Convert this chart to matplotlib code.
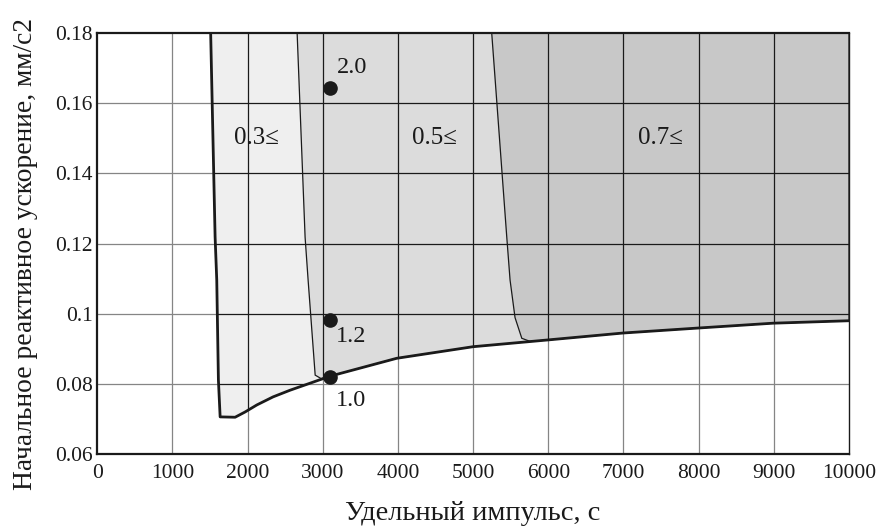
import matplotlib
matplotlib.use('Agg')
from matplotlib import pyplot
import numpy

pyplot.rcParams['font.family'] = ['Liberation Serif', 'DejaVu Serif']

# left edge of the feasible region (top -> bottom)
left_x = [1510, 1569, 1591, 1613, 1636]
left_y = [0.180, 0.1219, 0.1096, 0.0811, 0.0706]

# lower edge of the feasible region (left -> right)
low_x = [1636, 1835, 1968, 2124, 2340, 2566, 3098, 3985, 5000, 5980, 6995, 7979, 8989, 10000]
low_y = [0.0706, 0.0705, 0.0720, 0.0740, 0.0763, 0.0782, 0.0822, 0.0873, 0.0906, 0.0925,
         0.0945, 0.0959, 0.0973, 0.0980]

# 0.3 / 0.5 boundary (top -> bottom)
b05_x = [2660, 2766, 2806, 2900, 2980]
b05_y = [0.180, 0.1218, 0.1096, 0.0825, 0.0815]

# 0.5 / 0.7 boundary (top -> bottom)
b07_x = [5248, 5448, 5492, 5558, 5648, 5760]
b07_y = [0.180, 0.1219, 0.1096, 0.0989, 0.0930, 0.0921]

zone_labels = ['0.3≤', '0.5≤', '0.7≤']
zone_x = [2114, 4481, 7487]
zone_y = [0.150, 0.150, 0.150]

pts_x = [3100, 3100, 3100]
pts_y = [0.1643, 0.0982, 0.0819]
pts_labels = ['2.0', '1.2', '1.0']
pts_offsets = [(16, 15), (15, -12), (15, -17)]


def region(bx, by):
    xs = list(bx) + [x for x in low_x if x > bx[-1]] + [10000]
    ys = list(by) + [y for x, y in zip(low_x, low_y) if x > bx[-1]] + [0.18]
    return numpy.column_stack([xs, ys])


fig, ax = pyplot.subplots(figsize=(8.83, 5.28), dpi=100)
fig.subplots_adjust(left=0.110, right=0.9615, top=0.9375, bottom=0.140)

outer = region(left_x + low_x[1:], left_y + low_y[1:])
p_outer = pyplot.Polygon(outer, closed=True, facecolor='#efefef', edgecolor='none', zorder=1)
ax.add_patch(p_outer)
ax.add_patch(pyplot.Polygon(region(b05_x, b05_y), closed=True, facecolor='#dcdcdc',
                            edgecolor='#1a1a1a', linewidth=0.9, zorder=1.5))
ax.add_patch(pyplot.Polygon(region(b07_x, b07_y), closed=True, facecolor='#c8c8c8',
                            edgecolor='#1a1a1a', linewidth=0.9, zorder=1.6))

xt = numpy.arange(0, 10001, 1000)
yt = numpy.arange(0.06, 0.1801, 0.02)
ax.set_xlim(0, 10000)
ax.set_ylim(0.06, 0.18)
ax.set_xticks(xt)
ax.set_yticks(yt)
ax.set_xticklabels([str(v) for v in xt])
ax.set_yticklabels(['0.06', '0.08', '0.1', '0.12', '0.14', '0.16', '0.18'])

# grid: grey in the empty part, black inside the shaded zones
for v in xt[1:-1]:
    ax.axvline(v, color='#858585', linewidth=0.9, zorder=0.5)
    ln = ax.axvline(v, color='#1a1a1a', linewidth=0.9, zorder=2)
    ln.set_clip_path(p_outer)
for v in yt[1:-1]:
    ax.axhline(v, color='#858585', linewidth=0.9, zorder=0.5)
    ln = ax.axhline(v, color='#1a1a1a', linewidth=0.9, zorder=2)
    ln.set_clip_path(p_outer)

# thick outline of the feasible region
ax.plot(left_x + low_x[1:], left_y + low_y[1:], color='#1a1a1a', linewidth=2.0, zorder=3,
        solid_joinstyle='round')

ax.plot(pts_x, pts_y, 'o', color='#1a1a1a', markersize=9.5, zorder=4)
for x, y, s, off in zip(pts_x, pts_y, pts_labels, pts_offsets):
    ax.annotate(s, (x, y), xytext=off, textcoords='offset points', ha='center', va='center',
                fontsize=17.5, color='#1a1a1a', zorder=5)

for s, x, y in zip(zone_labels, zone_x, zone_y):
    ax.text(x, y, s, ha='center', va='center', fontsize=18, color='#1a1a1a', zorder=5)

for side in ['left', 'bottom', 'top']:
    ax.spines[side].set_linewidth(1.6)
ax.spines['right'].set_linewidth(1.0)
for sp in ax.spines.values():
    sp.set_color('#1a1a1a')
    sp.set_zorder(6)

ax.tick_params(length=0, labelsize=15.5, colors='#1a1a1a')
ax.tick_params(axis='x', pad=7)
ax.tick_params(axis='y', pad=3)
ax.set_xlabel('Удельный импульс, с', fontsize=20.5, color='#1a1a1a', labelpad=13)
ax.set_ylabel('Начальное реактивное ускорение, мм/с2', fontsize=19.8, color='#1a1a1a')
ax.yaxis.set_label_coords(-0.078, 0.476)

pyplot.savefig('out.png')
